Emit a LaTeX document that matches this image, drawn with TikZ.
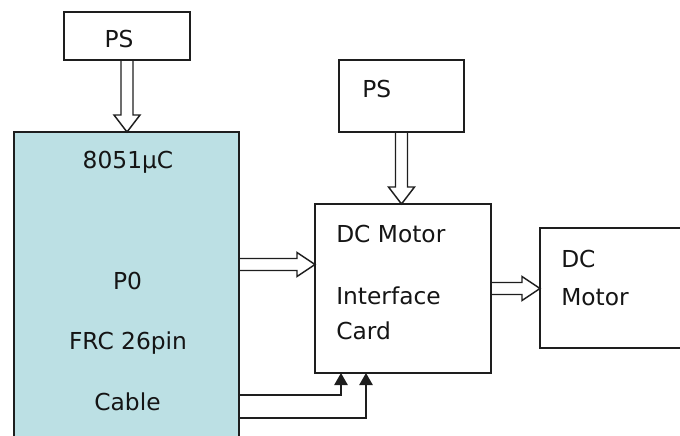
\documentclass[tikz,border=0pt]{standalone}
\usepackage{fontspec}
\setmainfont{DejaVu Sans}
\usetikzlibrary{arrows.meta,calc}
\definecolor{linec}{HTML}{1E1E1E}
\definecolor{textc}{HTML}{151515}
\definecolor{mcufill}{HTML}{BCE0E4}
\newcommand\hollowdown[2]{%
  \draw[hollow] ($(#1)+(-6,0)$) -- ($(#2)+(-6,-17)$) -- ($(#2)+(-13,-17)$) -- (#2)
    -- ($(#2)+(13,-17)$) -- ($(#2)+(6,-17)$) -- ($(#1)+(6,0)$);}
\newcommand\hollowright[2]{%
  \draw[hollow] ($(#1)+(0,-6)$) -- ($(#2)+(-18,-6)$) -- ($(#2)+(-18,-12)$) -- (#2)
    -- ($(#2)+(-18,12)$) -- ($(#2)+(-18,6)$) -- ($(#1)+(0,6)$);}
\begin{document}
\begin{tikzpicture}[x=0.75pt,y=-0.75pt,
  box/.style={draw=linec,line width=1.1pt,inner sep=0pt,outer sep=0pt,anchor=north west},
  txt/.style={anchor=base,inner sep=0pt,text=textc,font=\fontsize{17.5}{20}\selectfont},
  txtl/.style={txt,anchor=base west},
  hollow/.style={draw=linec,line width=1.1pt,line join=miter},
  conn/.style={draw=linec,line width=1.1pt,-{Triangle[length=9pt,width=10pt]}}]
\useasboundingbox (0,0) rectangle (680,435);
\clip (0,0) rectangle (680,435);
% boxes
\node[box,minimum width=126*0.75pt,minimum height=48*0.75pt] (ps1) at (64,12) {};
\node[box,fill=mcufill,minimum width=225*0.75pt,minimum height=320*0.75pt] (mcu) at (14,132) {};
\node[box,minimum width=125*0.75pt,minimum height=72*0.75pt] (ps2) at (339,60) {};
\node[box,minimum width=176*0.75pt,minimum height=169*0.75pt] (card) at (315,204) {};
\node[box,minimum width=160*0.75pt,minimum height=120*0.75pt] (motor) at (540,228) {};
% texts
\node[txt] (tps1) at (119,48) {PS};
\node[txt] (tmcu) at (128,168) {8051µC};
\node[txt] (tp0) at (127.5,289) {P0};
\node[txt] (tfrc) at (128,349) {FRC 26pin};
\node[txt] (tcab) at (127.5,410) {Cable};
\node[txtl] (tps2) at (362,97) {PS};
\node[txtl] (tdc1) at (336,242) {DC Motor};
\node[txtl] (tint) at (336,304) {Interface};
\node[txtl] (tcard) at (336,339) {Card};
\node[txtl] (tdc2) at (561,267) {DC};
\node[txtl] (tmot) at (561,305) {Motor};
% hollow arrows
\hollowdown{ps1.south}{ps1.south |- mcu.north}
\hollowdown{ps2.south}{ps2.south |- card.north}
\hollowright{$(mcu.north east)+(0,132.5)$}{$(card.north west)+(0,60.5)$}
\hollowright{card.east}{motor.west |- card.east}
% control lines
\draw[conn] ($(mcu.north east)+(0,263)$) -| ($(card.south west)+(26,0)$);
\draw[conn] ($(mcu.north east)+(0,286)$) -| ($(card.south west)+(51,0)$);
\end{tikzpicture}
\end{document}
